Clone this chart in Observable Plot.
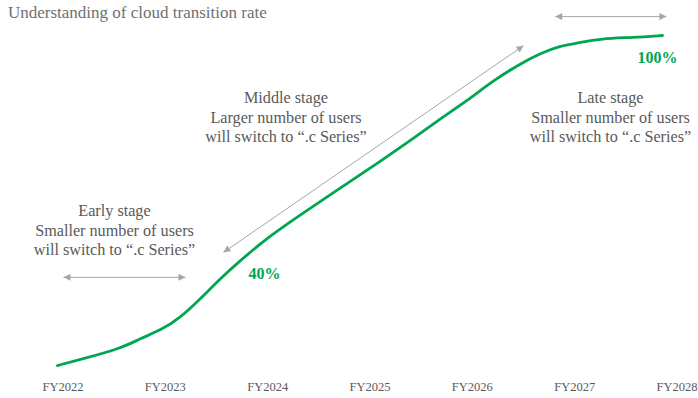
<!DOCTYPE html>
<html>
<head>
<meta charset="utf-8">
<script src="https://cdn.jsdelivr.net/npm/d3@7"></script>
<script src="https://cdn.jsdelivr.net/npm/@observablehq/plot@0.6"></script>
<style>
  html, body { margin: 0; padding: 0; background: #fff; }
  #wrap { position: relative; width: 698px; height: 398px; overflow: hidden; }
  #title { position: absolute; left: 8px; top: 3px; font: 17px "Liberation Serif", "Times New Roman", serif; line-height: 20px; color: #707070; white-space: nowrap; }
  #chart { position: absolute; left: 0; top: 0; }
</style>
</head>
<body>
<div id="wrap">
  <div id="title">Understanding of cloud transition rate</div>
  <div id="chart"></div>
</div>
<script>
// ---- data (x = fiscal-year index, 0 = FY2022; y = transition rate %) ----
const fyLabels = ["FY2022", "FY2023", "FY2024", "FY2025", "FY2026", "FY2027", "FY2028"];
const curveX = [-0.054, 0.171, 0.562, 0.757, 0.953, 1.148, 1.344, 1.539, 1.734, 1.930, 2.125, 2.712, 3.103, 3.425, 3.689, 3.953, 4.207, 4.471, 4.666, 4.862, 5.057, 5.253, 5.575, 5.858];
const curveY = [2.3, 4.1, 7.3, 10.3, 12.7, 16.5, 22.1, 28.1, 33.4, 38.4, 42.9, 54.9, 62.8, 69.5, 75.4, 80.8, 86.7, 91.7, 94.7, 97.0, 97.9, 99.1, 99.4, 100];

// stage annotations
const stageText = [
  "Early stage\nSmaller number of users\nwill switch to \u201c.c Series\u201d",
  "Middle stage\nLarger number of users\nwill switch to \u201c.c Series\u201d",
  "Late stage\nSmaller number of users\nwill switch to \u201c.c Series\u201d"
];
const stageX = [0.503, 2.179, 5.35];
const stageY = [42.6, 76.0, 76.0];

// double-headed arrows spanning each stage
const arrowX1 = [0.005, 1.568, 4.81];
const arrowY1 = [28.4, 35.8, 105.6];
const arrowX2 = [1.197, 4.50, 5.897];
const arrowY2 = [28.4, 97.0, 105.6];

// value callouts
const calloutText = ["40%", "100%"];
const calloutX = [1.969, 5.81];
const calloutY = [29.5, 93.5];

// ---- build tables ----
const curve = curveX.map((x, i) => ({x, y: curveY[i]}));
const stages = stageText.map((t, i) => ({t, x: stageX[i], y: stageY[i]}));
const arrows = arrowX1.map((x1, i) => ({x1, y1: arrowY1[i], x2: arrowX2[i], y2: arrowY2[i]}));
const callouts = calloutText.map((t, i) => ({t, x: calloutX[i], y: calloutY[i]}));
const ticks = fyLabels.map((t, i) => ({t, x: i}));

const GREEN = "#00a651";
const GRAY_TEXT = "#5a5a5a";
const GRAY_ARROW = "#a6a6a6";
const FONT = "Liberation Serif, Times New Roman, serif";

const plot = Plot.plot({
  width: 698,
  height: 398,
  marginLeft: 62.5,
  marginRight: 21.5,
  marginTop: 35,
  marginBottom: 25.2,
  style: {fontFamily: FONT, background: "transparent", overflow: "visible"},
  x: {domain: [0, 6], axis: null},
  y: {domain: [0, 100], axis: null},
  marks: [
    Plot.link(arrows, {x1: "x1", y1: "y1", x2: "x2", y2: "y2", stroke: GRAY_ARROW, strokeWidth: 1}),
    Plot.line(curve, {x: "x", y: "y", stroke: GREEN, strokeWidth: 2.8, curve: "basis"}),
    Plot.text(stages, {x: "x", y: "y", text: "t", fontSize: 16.2, lineHeight: 1.2, fill: GRAY_TEXT, textAnchor: "middle"}),
    Plot.text(callouts, {x: "x", y: "y", text: "t", fontSize: 16, fontWeight: "bold", fill: GREEN}),
    Plot.text(ticks, {x: "x", text: "t", frameAnchor: "bottom", dy: 17.7, fontSize: 12.5, fill: GRAY_TEXT})
  ]
});

// filled arrowheads on both ends of the stage arrows
const svgNS = "http://www.w3.org/2000/svg";
const defs = document.createElementNS(svgNS, "defs");
const marker = document.createElementNS(svgNS, "marker");
marker.setAttribute("id", "tri");
marker.setAttribute("viewBox", "0 0 10 10");
marker.setAttribute("refX", "10");
marker.setAttribute("refY", "5");
marker.setAttribute("markerUnits", "userSpaceOnUse");
marker.setAttribute("markerWidth", "8");
marker.setAttribute("markerHeight", "7");
marker.setAttribute("orient", "auto-start-reverse");
const mp = document.createElementNS(svgNS, "path");
mp.setAttribute("d", "M0,0L10,5L0,10Z");
mp.setAttribute("fill", GRAY_ARROW);
marker.appendChild(mp);
defs.appendChild(marker);
plot.insertBefore(defs, plot.firstChild);
plot.querySelectorAll('g[aria-label="link"] path, g[aria-label="link"] line').forEach(p => {
  p.setAttribute("marker-start", "url(#tri)");
  p.setAttribute("marker-end", "url(#tri)");
});

document.getElementById("chart").appendChild(plot);
</script>
</body>
</html>
